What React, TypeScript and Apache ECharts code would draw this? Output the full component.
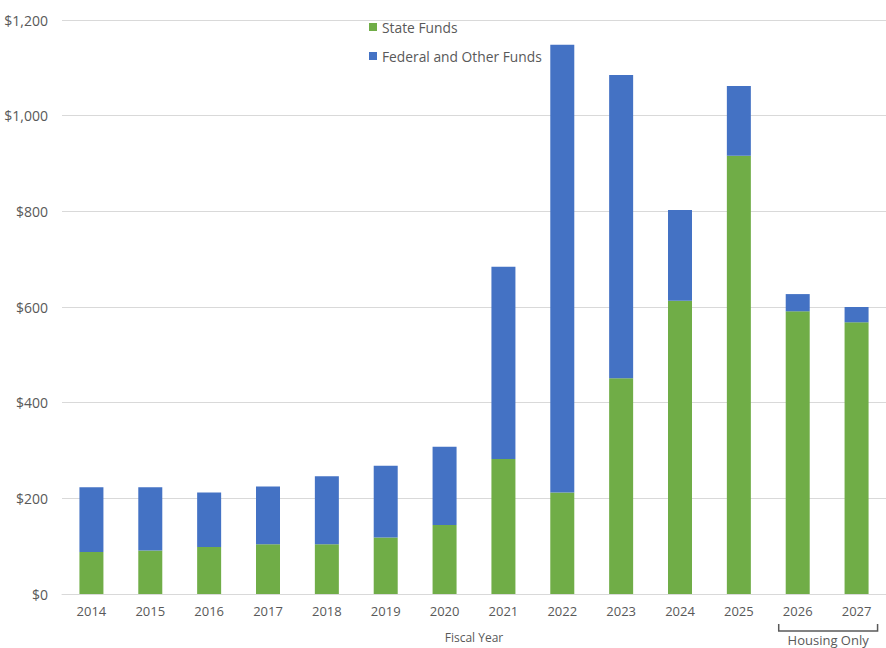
import React, { useEffect, useRef } from "react";
import * as echarts from "echarts";

const years = ["2014", "2015", "2016", "2017", "2018", "2019", "2020", "2021", "2022", "2023", "2024", "2025", "2026", "2027"];
const stateFunds = [88, 91, 98, 104, 104, 118, 144, 282, 212, 451, 613, 916, 591, 568];
const federalFunds = [135, 132, 114, 121, 142, 150, 164, 402, 936, 634, 190, 146, 36, 32];
const yTicks = [0, 200, 400, 600, 800, 1000, 1200];

const FONT = "'Open Sans', 'Noto Sans', sans-serif";
const TEXT = "#595959";

export default function App() {
  const ref = useRef<HTMLDivElement>(null);
  useEffect(() => {
    if (!ref.current) return;
    const chart = echarts.init(ref.current, undefined, { renderer: "svg" });
    chart.setOption({
      animation: false,
      textStyle: { fontFamily: FONT },
      grid: { left: 62, right: 0, top: 20, bottom: 50 },
      legend: {
        orient: "vertical",
        left: 364,
        top: 15,
        itemWidth: 8,
        itemHeight: 8,
        itemGap: 15,
        icon: "rect",
        textStyle: { color: TEXT, fontSize: 13.8, lineHeight: 14, fontFamily: FONT },
        data: ["State Funds", "Federal and Other Funds"],
      },
      xAxis: {
        type: "category",
        data: years,
        axisLine: { lineStyle: { color: "#d9d9d9" } },
        axisTick: { show: false },
        axisLabel: { color: TEXT, fontSize: 13, margin: 10, fontFamily: FONT },
        name: "Fiscal Year",
        nameLocation: "middle",
        nameGap: 37,
        nameTextStyle: { color: TEXT, fontSize: 12, fontFamily: FONT },
      },
      yAxis: {
        type: "value",
        min: yTicks[0],
        max: yTicks[yTicks.length - 1],
        interval: 200,
        axisLine: { show: false },
        axisTick: { show: false },
        splitLine: { lineStyle: { color: "#d9d9d9" } },
        axisLabel: {
          color: TEXT,
          fontSize: 14,
          margin: 14,
          fontFamily: FONT,
          formatter: (v: number) => "$" + v.toLocaleString("en-US"),
        },
      },
      series: [
        {
          name: "State Funds",
          type: "bar",
          stack: "total",
          data: stateFunds,
          barWidth: 24,
          itemStyle: { color: "#70AD47" },
        },
        {
          name: "Federal and Other Funds",
          type: "bar",
          stack: "total",
          data: federalFunds,
          barWidth: 24,
          itemStyle: { color: "#4472C4" },
        },
      ],
    });
    const x1 = chart.convertToPixel({ xAxisIndex: 0 }, "2026") as number;
    const x2 = chart.convertToPixel({ xAxisIndex: 0 }, "2027") as number;
    const left = x1 - 19;
    const right = x2 + 21;
    chart.setOption({
      graphic: [
        {
          type: "polyline",
          shape: { points: [[left, 624], [left, 631], [right, 631], [right, 624]] },
          style: { stroke: "#595959", lineWidth: 1.5, fill: null },
        },
        {
          type: "text",
          x: (left + right) / 2,
          y: 640,
          style: {
            text: "Housing Only",
            fill: TEXT,
            fontSize: 13,
            fontFamily: FONT,
            align: "center",
            verticalAlign: "middle",
          },
        },
      ],
    });
    return () => chart.dispose();
  }, []);
  return <div ref={ref} style={{ width: 886, height: 648, position: "absolute", left: 0, top: 0 }} />;
}
